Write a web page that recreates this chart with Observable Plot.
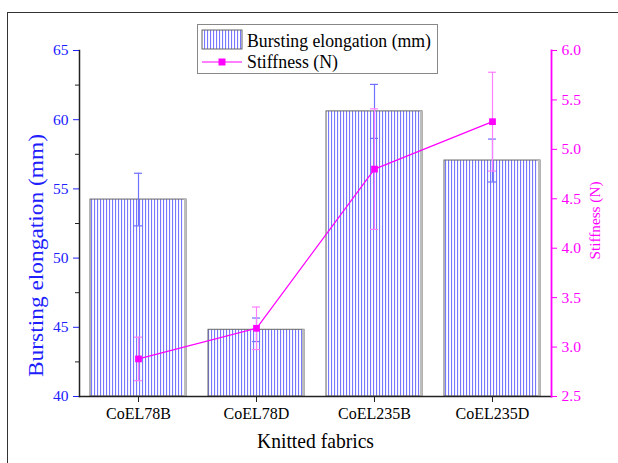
<!DOCTYPE html>
<html>
<head>
<meta charset="utf-8">
<script src="https://cdn.jsdelivr.net/npm/d3@7"></script>
<script src="https://cdn.jsdelivr.net/npm/@observablehq/plot@0.6"></script>
<style>
  body { margin: 0; background: white; }
  #wrap { position: relative; width: 618px; height: 463px; overflow: hidden; background: white; font-family: "Liberation Serif", serif; }
  #wrap svg, #wrap svg text { font-family: "Liberation Serif", serif !important; font-variant: normal !important; }
  #frame { position: absolute; left: 7px; top: 12px; width: 700px; height: 600px; border-left: 1.5px solid #333; border-top: 1.5px solid #333; }
  .layer { position: absolute; left: 0; top: 0; }
  #legend { position: absolute; left: 197px; top: 24px; }
</style>
</head>
<body>
<div id="wrap">
  <div id="frame"></div>
  <div id="l1" class="layer"></div>
  <div id="l2" class="layer"></div>
  <div id="legend"></div>
</div>
<script>
const categories = ["CoEL78B", "CoEL78D", "CoEL235B", "CoEL235D"];
const elongation = [54.23, 44.82, 60.6, 57.05];
const elongationErr = [1.9, 0.85, 1.95, 1.55];
const stiffness = [2.88, 3.19, 4.80, 5.28];
const stiffnessErr = [0.22, 0.215, 0.61, 0.5];
const yTicks = [40, 45, 50, 55, 60, 65];
const yMinorTicks = [42.5, 47.5, 52.5, 57.5, 62.5];
const y2Ticks = [2.5, 3.0, 3.5, 4.0, 4.5, 5.0, 5.5, 6.0];
const legendLabels = ["Bursting elongation (mm)", "Stiffness (N)"];
const titles = {y: "Bursting elongation (mm)", y2: "Stiffness (N)", x: "Knitted fabrics"};

const bars = categories.map((c, i) => ({cat: c, v: elongation[i], e: elongationErr[i]}));
const stiff = categories.map((c, i) => ({cat: c, v: stiffness[i], e: stiffnessErr[i]}));

const BLUE = "#2020ff", MAG = "#ff00ff";
const FONT = "Liberation Serif";
const common = {
  width: 618, height: 463,
  marginLeft: 79, marginRight: 67, marginTop: 50, marginBottom: 67,
  style: {fontFamily: FONT, background: "transparent", overflow: "visible"}
};
const xOpts = {domain: categories, paddingInner: 0.186, paddingOuter: 0.093, label: null};

function fitText(svg, str, len) {
  d3.select(svg).selectAll("text").filter(function () { return this.textContent === str; })
    .attr("textLength", len).attr("lengthAdjust", "spacingAndGlyphs");
}

const p1 = Plot.plot({
  ...common,
  x: xOpts,
  y: {domain: [40, 65], label: null},
  marks: [
    Plot.barY(bars, {x: "cat", y1: d => 40, y2: "v", fill: "url(#hatch)", stroke: "#666", strokeWidth: 1}),
    Plot.barY(bars, {x: "cat", y1: d => 40, y2: "v", insetLeft: 94, fill: "#bdbdbd"}),
    Plot.ruleX(bars, {x: "cat", y1: d => d.v - d.e, y2: d => d.v + d.e, stroke: "#7070ff", strokeWidth: 1.2}),
    Plot.tickY(bars, {x: "cat", y: d => d.v + d.e, insetLeft: 44, insetRight: 44, stroke: "#7070ff", strokeWidth: 1.2}),
    Plot.tickY(bars, {x: "cat", y: d => d.v - d.e, insetLeft: 44, insetRight: 44, stroke: "#7070ff", strokeWidth: 1.2}),
    Plot.axisX({tickSize: 6, tickPadding: 5, fontSize: 16, fontFamily: FONT, stroke: "#222", fill: "black", label: null}),
    Plot.axisY({ticks: yTicks, tickSize: 6, tickPadding: 5, fontSize: 15.5, fontFamily: FONT, stroke: BLUE, fill: BLUE, tickFormat: d => d, label: null}),
    Plot.axisY({ticks: yMinorTicks, tickSize: 4, stroke: "#222", tickFormat: null, text: null, label: null}),
    Plot.frame({anchor: "left", stroke: "#222", strokeWidth: 1.5}),
    Plot.frame({anchor: "bottom", stroke: "#222", strokeWidth: 1.5}),
    Plot.text([titles.y], {frameAnchor: "left", text: d => d, textAnchor: "middle", rotate: -90, dx: -43, dy: 32, fill: BLUE, fontSize: 20, fontFamily: FONT}),
    Plot.text([titles.x], {frameAnchor: "bottom", text: d => d, textAnchor: "middle", dy: 51, fill: "black", fontSize: 22, fontFamily: FONT})
  ]
});

const defs = d3.select(p1).insert("defs", ":first-child");
const pat = defs.append("pattern").attr("id", "hatch").attr("patternUnits", "userSpaceOnUse").attr("width", 3).attr("height", 10);
pat.append("rect").attr("width", 3).attr("height", 10).attr("fill", "white");
pat.append("rect").attr("x", 1).attr("width", 1.1).attr("height", 10).attr("fill", "#7878ff");
fitText(p1, titles.y, 243);
fitText(p1, titles.x, 117);
document.getElementById("l1").appendChild(p1);

const p2 = Plot.plot({
  ...common,
  x: {...xOpts, axis: null},
  y: {domain: [2.5, 6], label: null},
  marks: [
    Plot.ruleX(stiff, {x: "cat", y1: d => d.v - d.e, y2: d => d.v + d.e, stroke: "#ff80ff", strokeWidth: 1.2}),
    Plot.tickY(stiff, {x: "cat", y: d => d.v + d.e, insetLeft: 44, insetRight: 44, stroke: "#ff80ff", strokeWidth: 1.2}),
    Plot.tickY(stiff, {x: "cat", y: d => d.v - d.e, insetLeft: 44, insetRight: 44, stroke: "#ff80ff", strokeWidth: 1.2}),
    Plot.line(stiff, {x: "cat", y: "v", stroke: MAG, strokeWidth: 1.2}),
    Plot.dot(stiff, {x: "cat", y: "v", symbol: "square", fill: MAG, r: 3.8}),
    Plot.axisY({anchor: "right", ticks: y2Ticks, tickFormat: d => d.toFixed(1), tickSize: 5, tickPadding: 5, fontSize: 15.5, fontFamily: FONT, stroke: MAG, fill: MAG, label: null}),
    Plot.frame({anchor: "right", stroke: MAG, strokeWidth: 1.8}),
    Plot.text([titles.y2], {frameAnchor: "right", text: d => d, textAnchor: "middle", rotate: -90, dx: 44, dy: -3, fill: MAG, fontSize: 14.5, fontFamily: FONT})
  ]
});
fitText(p2, titles.y2, 78);
document.getElementById("l2").appendChild(p2);

// Legend
const lg = d3.select("#legend").append("svg").attr("width", 242).attr("height", 52)
  .style("font-family", FONT).style("overflow", "visible");
const lpat = lg.append("defs").append("pattern").attr("id", "hatch2").attr("patternUnits", "userSpaceOnUse").attr("width", 3).attr("height", 10);
lpat.append("rect").attr("width", 3).attr("height", 10).attr("fill", "white");
lpat.append("rect").attr("x", 1).attr("width", 1.1).attr("height", 10).attr("fill", "#7878ff");
lg.append("rect").attr("x", 0.5).attr("y", 0.5).attr("width", 240).attr("height", 49).attr("fill", "white").attr("stroke", "#888");
lg.append("rect").attr("x", 5).attr("y", 6).attr("width", 40).attr("height", 19).attr("fill", "url(#hatch2)").attr("stroke", "#666");
lg.append("text").attr("x", 50).attr("y", 22.5).attr("font-size", 19).attr("fill", "black")
  .attr("textLength", 184).attr("lengthAdjust", "spacingAndGlyphs").text(legendLabels[0]);
lg.append("line").attr("x1", 5).attr("x2", 45).attr("y1", 38).attr("y2", 38).attr("stroke", MAG).attr("stroke-width", 1.2);
lg.append("rect").attr("x", 21.5).attr("y", 34.5).attr("width", 7).attr("height", 7).attr("fill", MAG);
lg.append("text").attr("x", 50).attr("y", 44).attr("font-size", 19).attr("fill", "black")
  .attr("textLength", 91).attr("lengthAdjust", "spacingAndGlyphs").text(legendLabels[1]);
</script>
</body>
</html>
